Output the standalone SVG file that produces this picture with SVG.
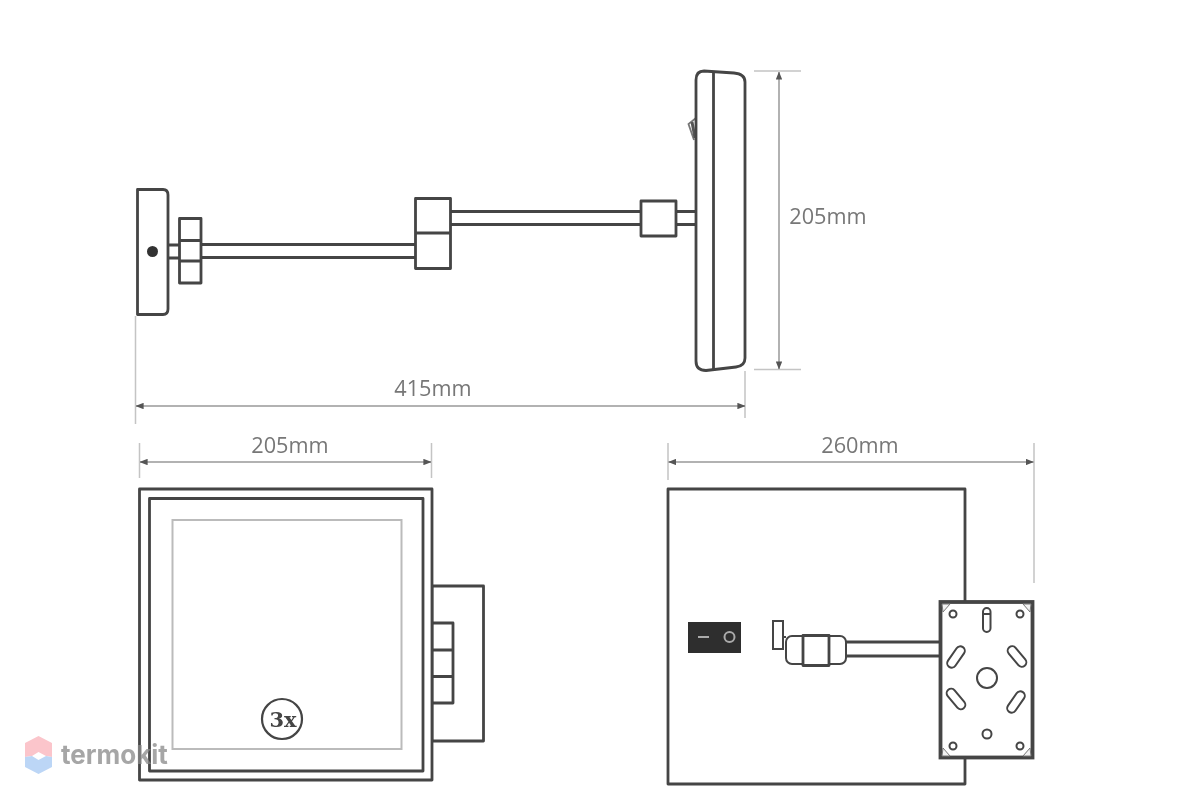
<svg xmlns="http://www.w3.org/2000/svg" width="1200" height="800" viewBox="0 0 1200 800">
<style>
.o{fill:#fff;stroke:#444;stroke-width:2.800;stroke-linejoin:round}
.n{fill:none;stroke:#444;stroke-width:2.800}
.t{fill:none;stroke:#444;stroke-width:2}
.d{fill:none;stroke:#999;stroke-width:1.500}
.e{fill:none;stroke:#c4c4c4;stroke-width:1.500}
.l{font-family:"Open Sans","Noto Sans",sans-serif;font-size:21.700px;fill:#777;text-anchor:middle}
</style>
<defs>
<marker id="a" viewBox="0 0 10 8" refX="9.500" refY="4" markerWidth="8" markerHeight="6.400" orient="auto-start-reverse" markerUnits="userSpaceOnUse"><path d="M0 0L10 4L0 8Z" fill="#555"/></marker>
<filter id="s" x="0" y="0" width="1200" height="800" filterUnits="userSpaceOnUse"><feGaussianBlur stdDeviation="0.450"/></filter>
</defs>
<rect width="1200" height="800" fill="#fff"/>
<g filter="url(#s)">
<g id="connectors">
<path class="e" d="M135.500 316V424M745 371V418M139.500 443V478M431.500 443V478M668 443V480M1034 443V583M754 71H801M754 369.500H801"/>
<path class="d" d="M136 406H745" marker-start="url(#a)" marker-end="url(#a)"/>
<path class="d" d="M140 462H431" marker-start="url(#a)" marker-end="url(#a)"/>
<path class="d" d="M668.500 462H1033.500" marker-start="url(#a)" marker-end="url(#a)"/>
<path class="d" d="M779 72V369" marker-start="url(#a)" marker-end="url(#a)"/>
</g>
<g id="side-view">
<path class="n" d="M168 245H179M168 258H179M201 244.500H416M201 257.500H416M450 211.500H641M450 224.500H641M676 211.500H696M676 224.500H696"/>
<path class="o" d="M137.500 189.500H163Q168 189.500 168 195V309Q168 314.500 163 314.500H137.500Z"/>
<circle cx="152.500" cy="251.500" r="5.500" fill="#333"/>
<path class="o" d="M179.500 218.500H201V283H179.500Z"/>
<path class="n" d="M179.500 240.500H201M179.500 261H201"/>
<rect class="o" x="415.500" y="198.500" width="35" height="70"/>
<path class="n" d="M415.500 233H450.500"/>
<rect class="o" x="641" y="201" width="35" height="35"/>
<path d="M696 118L688.500 124L694 140" fill="none" stroke="#777" stroke-width="1.800"/>
<path d="M692 122L695 138" stroke="#555" stroke-width="3"/>
<path class="o" d="M696 80Q696 71 704 71L734 73Q745 74 745 82V358Q745 366 736 367L706 370.500Q696 370.500 696 361Z"/>
<path class="n" d="M713.500 72V369"/>
</g>
<g id="front-view">
<rect class="o" x="432" y="586" width="51.500" height="155"/>
<rect class="o" x="432" y="623" width="21" height="80"/>
<path class="n" d="M432 650H453M432 676.500H453"/>
<rect class="o" x="139.500" y="489" width="292.500" height="291"/>
<rect class="o" x="149.500" y="498.500" width="273.500" height="272.500"/>
<rect x="172.500" y="520" width="229" height="229" fill="none" stroke="#bbb" stroke-width="2"/>
<circle cx="282" cy="719" r="20" fill="#fff" stroke="#444" stroke-width="2.200"/>
<text x="283" y="727" font-family="DejaVu Serif,serif" font-size="21" font-weight="700" fill="#444" text-anchor="middle">3x</text>
</g>
<g id="back-view">
<rect class="o" x="668" y="489" width="297" height="295"/>
<rect x="688" y="622" width="53" height="31" fill="#2f2f2f"/>
<path d="M698 637H709" stroke="#aaa" stroke-width="2"/>
<circle cx="729.500" cy="637" r="5" fill="none" stroke="#aaa" stroke-width="2"/>
<rect x="773" y="621" width="10" height="28" fill="#fff" stroke="#444" stroke-width="2"/>
<path class="n" d="M846 642H940M846 656H940"/>
<path class="t" d="M783 637H786"/>
<rect x="786" y="636" width="60" height="28" rx="6" fill="#fff" stroke="#444" stroke-width="2"/>
<rect class="o" x="803" y="635.500" width="26" height="30" stroke-width="2"/>
</g>
<g id="wall-plate">
<rect x="940.500" y="602" width="92" height="155.500" fill="#fff" stroke="#444" stroke-width="3.800"/>
<path d="M942 604H950L943 612ZM1031 604H1023L1030 612ZM942 756H950L943 748ZM1031 756H1023L1030 748Z" fill="#f2f2f2" stroke="#777" stroke-width="1"/>
<g class="t">
<circle cx="953" cy="614" r="3.500"/><circle cx="1020" cy="614" r="3.500"/><circle cx="953" cy="746" r="3.500"/><circle cx="1020" cy="746" r="3.500"/>
<circle cx="987" cy="734" r="4.500"/><circle cx="987" cy="678" r="10"/>
<rect x="983" y="608" width="7.500" height="24" rx="3.700"/>
<path d="M983.500 614H990"/>
<rect x="951.500" y="645" width="9" height="24" rx="4.500" transform="rotate(35 956 657)"/>
<rect x="1012.500" y="644.500" width="9" height="24" rx="4.500" transform="rotate(-40 1017 656.500)"/>
<rect x="951.500" y="687" width="9" height="24" rx="4.500" transform="rotate(-40 956 699)"/>
<rect x="1011.500" y="690" width="9" height="24" rx="4.500" transform="rotate(35 1016 702)"/>
</g>
</g>
<g id="labels">
<text class="l" x="828" y="224">205mm</text>
<text class="l" x="433" y="396">415mm</text>
<text class="l" x="290" y="453">205mm</text>
<text class="l" x="860" y="453">260mm</text>
</g>
<g id="watermark">
<path d="M38.500 736L52 743V757L46 756L38.500 752L32 756L25 757V743Z" fill="#fbc5cb"/>
<path d="M25 757L32 756L38.500 760L46 756L52 757V767L38.500 774L25 767Z" fill="#bcd6f6"/>
<text x="61" y="764" font-family="Inter,Liberation Sans,sans-serif" font-size="26" font-weight="700" fill="#888" opacity="0.75">termokit</text>
</g>
</g>
</svg>
